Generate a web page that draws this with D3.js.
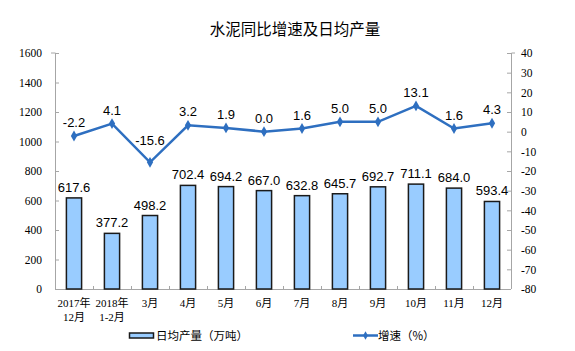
<!DOCTYPE html>
<html><head><meta charset="utf-8">
<script src="https://cdn.jsdelivr.net/npm/d3@7"></script>
<style>
body{margin:0;background:#fff;}
svg{display:block;}
</style></head>
<body><svg id="c" width="575" height="351"></svg>
<script>
const title = "水泥同比增速及日均产量";
const categories = [["2017年","12月"],["2018年","1-2月"],["3月"],["4月"],["5月"],["6月"],["7月"],["8月"],["9月"],["10月"],["11月"],["12月"]];
const output = [617.6,377.2,498.2,702.4,694.2,667.0,632.8,645.7,692.7,711.1,684.0,593.4];
const growth = [-2.2,4.1,-15.6,3.2,1.9,0.0,1.6,5.0,5.0,13.1,1.6,4.3];
const leftTicks = [0,200,400,600,800,1000,1200,1400,1600];
const rightTicks = [-80,-70,-60,-50,-40,-30,-20,-10,0,10,20,30,40];
const legendBar = "日均产量（万吨）";
const legendLine = "增速（%）";

const svg = d3.select("#c");
const L = 55, R = 511, T = 53, B = 289;
const axisColor = "#a6a6a6";
const lineColor = "#2e6fc0";
const serif = "'Liberation Serif','Times New Roman','Noto Sans CJK SC',serif";
const sans = "'Liberation Sans',Arial,'Noto Sans CJK SC',sans-serif";

const x = d3.scaleBand().domain(d3.range(categories.length)).range([L, R]).paddingInner(0.6).paddingOuter(0.3);
const xc = d3.scaleBand().domain(d3.range(categories.length)).range([L, R]);
const yL = d3.scaleLinear().domain([0,1600]).range([B, T]);
const yR = d3.scaleLinear().domain([-80,40]).range([B, T]);

svg.append("text").attr("x", 295).attr("y", 35).attr("text-anchor","middle")
  .attr("font-family","'Noto Sans CJK SC',sans-serif").attr("font-size",15.5).attr("fill","#000").text(title);

// left axis
const gl = svg.append("g").attr("transform",`translate(${L},0)`)
  .call(d3.axisLeft(yL).tickValues(leftTicks).tickSize(-4).tickPadding(13).tickFormat(d=>String(d)));
gl.select(".domain").attr("stroke",axisColor).attr("d",`M-4,${T}H0.5V${B}`);
gl.selectAll(".tick line").attr("stroke",axisColor);
gl.selectAll(".tick text").attr("font-family",serif).attr("font-size",11.5).attr("fill","#000");

// right axis
const gr = svg.append("g").attr("transform",`translate(${R},0)`)
  .call(d3.axisRight(yR).tickValues(rightTicks).tickSize(-4).tickPadding(13).tickFormat(d=>String(d)));
gr.select(".domain").attr("stroke",axisColor).attr("d",`M4,${T}H0.5V${B}`);
gr.selectAll(".tick line").attr("stroke",axisColor);
gr.selectAll(".tick text").attr("font-family",serif).attr("font-size",11.5).attr("fill","#000").attr("x",10);

// x axis
svg.append("line").attr("x1",L).attr("x2",R).attr("y1",B+0.5).attr("y2",B+0.5).attr("stroke",axisColor);
svg.selectAll(".xt").data(d3.range(categories.length+1)).enter().append("line")
  .attr("x1",i=>L+xc.step()*i+0.5).attr("x2",i=>L+xc.step()*i+0.5)
  .attr("y1",B).attr("y2",B-3).attr("stroke",axisColor);
const xl = svg.selectAll(".xl").data(categories).enter().append("text")
  .attr("text-anchor","middle").attr("font-family",serif).attr("font-size",11).attr("fill","#000");
xl.each(function(d,i){
  const t = d3.select(this);
  d.forEach((s,j)=>t.append("tspan").attr("x",xc(i)+xc.bandwidth()/2).attr("y",307+j*13.5).text(s));
});

// bars
svg.selectAll(".bar").data(output).enter().append("rect")
  .attr("x",(d,i)=>x(i)).attr("width",x.bandwidth())
  .attr("y",d=>yL(d)).attr("height",d=>B-yL(d))
  .attr("fill","#99ccff").attr("stroke","#1a1a1a").attr("stroke-width",1.5);
svg.selectAll(".bl").data(output).enter().append("text")
  .attr("x",(d,i)=>xc(i)+xc.bandwidth()/2).attr("y",d=>yL(d)-6)
  .attr("text-anchor","middle").attr("font-family",sans).attr("font-size",13).attr("fill","#000")
  .text(d=>d.toFixed(1));

// line
const cx = i=>xc(i)+xc.bandwidth()/2;
svg.append("path").datum(growth)
  .attr("d",d3.line().x((d,i)=>cx(i)).y(d=>yR(d)))
  .attr("fill","none").attr("stroke",lineColor).attr("stroke-width",2.5);
svg.selectAll(".pt").data(growth).enter().append("path")
  .attr("transform",(d,i)=>`translate(${cx(i)},${yR(d)})`)
  .attr("d",d3.symbol(d3.symbolDiamond,34)).attr("fill",lineColor);
svg.selectAll(".gl").data(growth).enter().append("text")
  .attr("x",(d,i)=>cx(i)).attr("y",d=>yR(d)-(d<-10?17:9))
  .attr("text-anchor","middle").attr("font-family",sans).attr("font-size",13).attr("fill","#000")
  .text(d=>d.toFixed(1));

// legend
svg.append("rect").attr("x",129.5).attr("y",333).attr("width",24).attr("height",5)
  .attr("fill","#99ccff").attr("stroke","#1a1a1a").attr("stroke-width",1.5);
svg.append("text").attr("x",156).attr("y",340).attr("font-family","'Noto Sans CJK SC',sans-serif")
  .attr("font-size",11.5).attr("fill","#000").text(legendBar);
svg.append("line").attr("x1",353).attr("x2",378).attr("y1",335.5).attr("y2",335.5)
  .attr("stroke",lineColor).attr("stroke-width",2.5);
svg.append("path").attr("transform","translate(365.5,335.5)").attr("d",d3.symbol(d3.symbolDiamond,20)).attr("fill",lineColor);
svg.append("text").attr("x",378).attr("y",340).attr("font-family","'Noto Sans CJK SC',sans-serif")
  .attr("font-size",11.5).attr("fill","#000").text(legendLine);
</script></body></html>
